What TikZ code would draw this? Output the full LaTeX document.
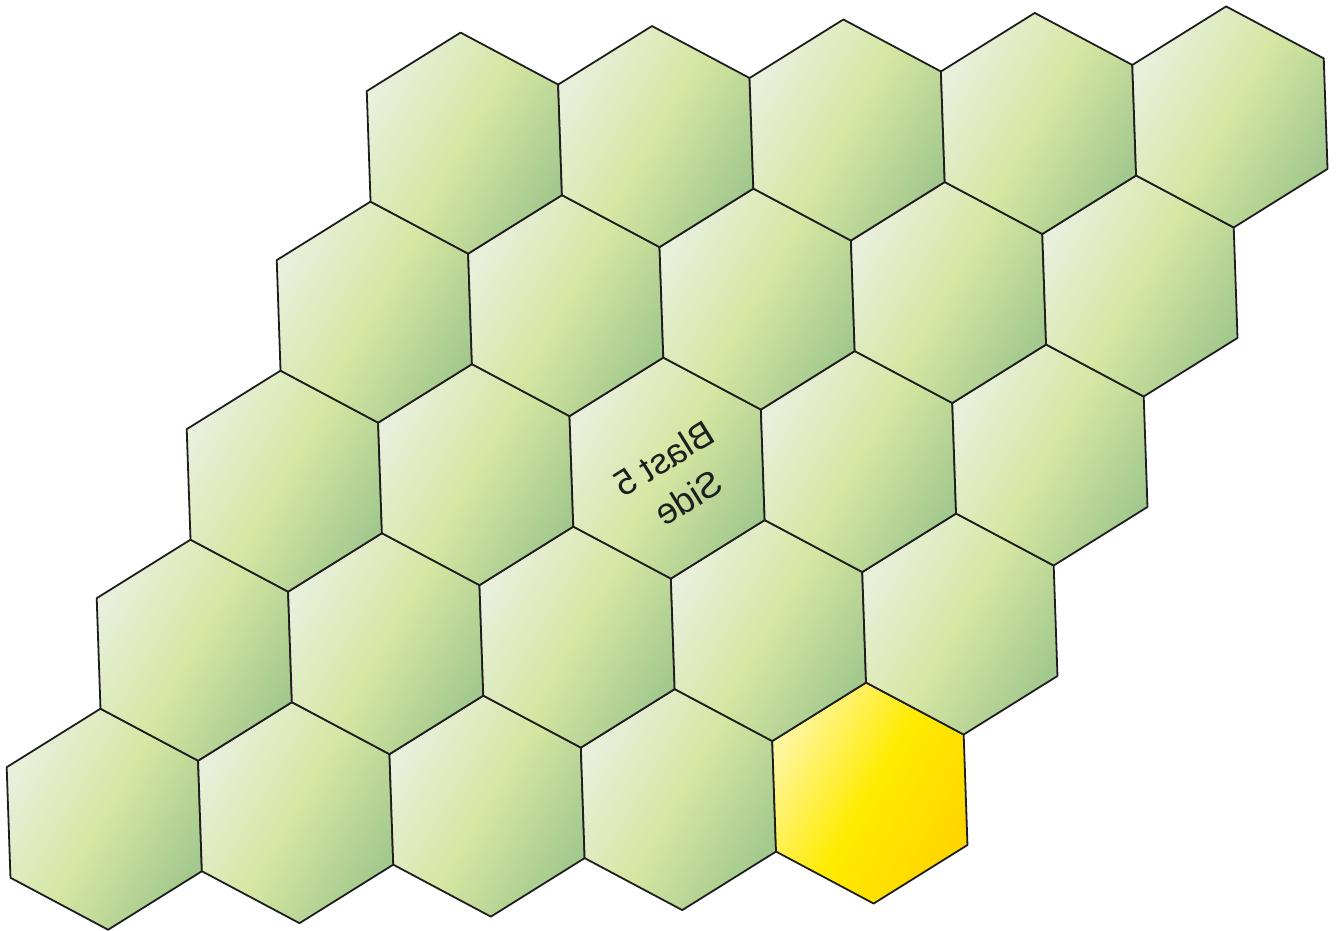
\documentclass[tikz,border=0pt]{standalone}
\usepackage{fontspec}
\newfontfamily\tilefont{Liberation Sans}
\usetikzlibrary{positioning}

\definecolor{cellLight}{HTML}{E8F0DC}
\definecolor{cellMid}{HTML}{D6E6A2}
\definecolor{cellDark}{HTML}{A3C98E}
\definecolor{hotLight}{HTML}{FFF6A0}
\definecolor{hotMid}{HTML}{FFEB00}
\definecolor{hotDark}{HTML}{FFD600}
\definecolor{rim}{HTML}{1E1E1E}

\tikzset{
  cell/.style={draw=rim, line width=1.8pt, line join=round,
    left color=cellLight, right color=cellDark, middle color=cellMid, shading angle=60},
  hotcell/.style={cell, left color=hotLight, right color=hotDark, middle color=hotMid, shading angle=60},
  tag/.style={font=\tilefont\fontsize{36}{46}\selectfont, text=rim, align=center}
}

\begin{document}
\begin{tikzpicture}[x=1pt, y=1pt]
  \useasboundingbox (0,0) rectangle (1340,930);
  \def\tilt{1.96}
  \def\rad{110.6}
  \def\gap{191.5}
  % rhombus of 5x5 cells, bottom row first
  \foreach \r in {0,...,4}
    \foreach \c in {0,...,4}{
      \ifnum\numexpr\r*10+\c\relax=4 \def\kind{hotcell}\else\def\kind{cell}\fi
      \path[\kind, shift={(104.3,110.8)}, shift={({\tilt}:{\gap*\c})}, shift={({60+\tilt}:{\gap*\r})}]
        ({30+\tilt}:\rad) -- ({90+\tilt}:\rad) -- ({150+\tilt}:\rad)
        -- ({210+\tilt}:\rad) -- ({270+\tilt}:\rad) -- ({330+\tilt}:\rad) -- cycle;
    }
  % mirrored label in the middle cell
  \node[tag, rotate=32, xscale=-1] (blast) at (676,452) {Blast 5\\Side};
\end{tikzpicture}
\end{document}
